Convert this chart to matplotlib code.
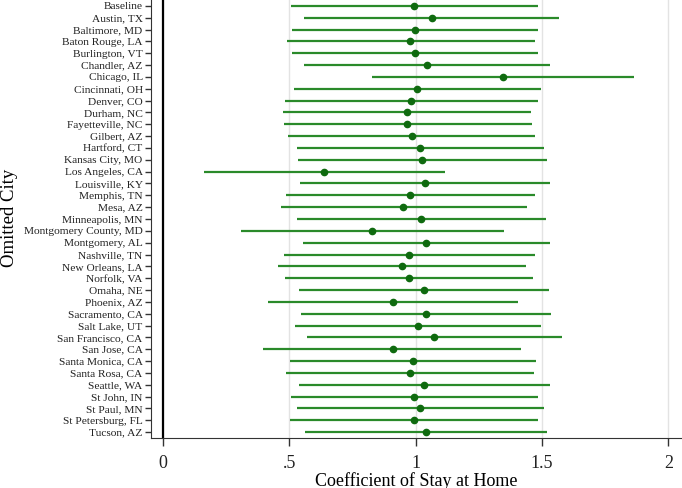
import numpy as np
import matplotlib.pyplot as plt

cities = ["Baseline", "Austin, TX", "Baltimore, MD", "Baton Rouge, LA", "Burlington, VT",
          "Chandler, AZ", "Chicago, IL", "Cincinnati, OH", "Denver, CO", "Durham, NC",
          "Fayetteville, NC", "Gilbert, AZ", "Hartford, CT", "Kansas City, MO",
          "Los Angeles, CA", "Louisville, KY", "Memphis, TN", "Mesa, AZ", "Minneapolis, MN",
          "Montgomery County, MD", "Montgomery, AL", "Nashville, TN", "New Orleans, LA",
          "Norfolk, VA", "Omaha, NE", "Phoenix, AZ", "Sacramento, CA", "Salt Lake, UT",
          "San Francisco, CA", "San Jose, CA", "Santa Monica, CA", "Santa Rosa, CA",
          "Seattle, WA", "St John, IN", "St Paul, MN", "St Petersburg, FL", "Tucson, AZ"]

coef = [0.993, 1.064, 0.997, 0.978, 0.997, 1.045, 1.344, 1.005, 0.981, 0.964,
        0.967, 0.985, 1.019, 1.027, 0.637, 1.036, 0.976, 0.952, 1.021, 0.828,
        1.041, 0.974, 0.945, 0.974, 1.033, 0.909, 1.040, 1.010, 1.074, 0.909,
        0.988, 0.976, 1.034, 0.995, 1.019, 0.993, 1.041]
ci_low = [0.507, 0.560, 0.512, 0.490, 0.509, 0.558, 0.828, 0.517, 0.483, 0.474,
          0.478, 0.495, 0.531, 0.534, 0.162, 0.541, 0.486, 0.466, 0.529, 0.311,
          0.555, 0.481, 0.455, 0.485, 0.540, 0.414, 0.548, 0.524, 0.570, 0.395,
          0.502, 0.488, 0.540, 0.507, 0.529, 0.503, 0.564]
ci_high = [1.483, 1.569, 1.483, 1.471, 1.486, 1.533, 1.863, 1.497, 1.483, 1.457,
           1.460, 1.474, 1.507, 1.521, 1.117, 1.531, 1.471, 1.442, 1.515, 1.349,
           1.531, 1.473, 1.436, 1.466, 1.526, 1.405, 1.534, 1.498, 1.581, 1.418,
           1.478, 1.467, 1.531, 1.483, 1.509, 1.483, 1.521]

plt.rcParams["font.family"] = ["Liberation Serif", "DejaVu Serif"]

fig = plt.figure(figsize=(6.82, 4.88), dpi=100)
ax = fig.add_axes([151 / 682, 1 - 438 / 488, 530 / 682, 438 / 488])

y = np.arange(len(cities))
ax.hlines(y, ci_low, ci_high, color="#2a8a2a", linewidth=1.6, zorder=3)
ax.plot(coef, y, "o", color="#0f6a0f", markersize=4.5, zorder=4)

# vertical reference line at zero
ax.axvline(0, color="black", linewidth=1.6, zorder=2)

ax.set_xlim(-0.047, 2.05)
ax.set_ylim(len(cities) - 0.5, -0.5)
ax.set_xticks([0, 0.5, 1, 1.5, 2])
ax.set_xticklabels(["0", ".5", "1", "1.5", "2"], fontsize=13)
ax.set_yticks(y)
ax.set_yticklabels(cities, fontsize=8.2)
ax.grid(axis="x", color="#e3e3e3", linewidth=1, zorder=0)

ax.spines["top"].set_visible(False)
ax.spines["right"].set_visible(False)
ax.spines["left"].set_color("#333333")
ax.spines["bottom"].set_color("#333333")
ax.tick_params(axis="y", length=4, width=1, pad=2, colors="#333333", labelcolor="#222222")
ax.tick_params(axis="x", length=6, width=1, pad=6, colors="#333333", labelcolor="#222222")

ax.set_xlabel("Coefficient of Stay at Home", fontsize=13, labelpad=0)
fig.text(10 / 682, 1 - 218 / 488, "Omitted City", fontsize=13.5, rotation=90,
         ha="center", va="center")

fig.savefig("out.png", dpi=100)
